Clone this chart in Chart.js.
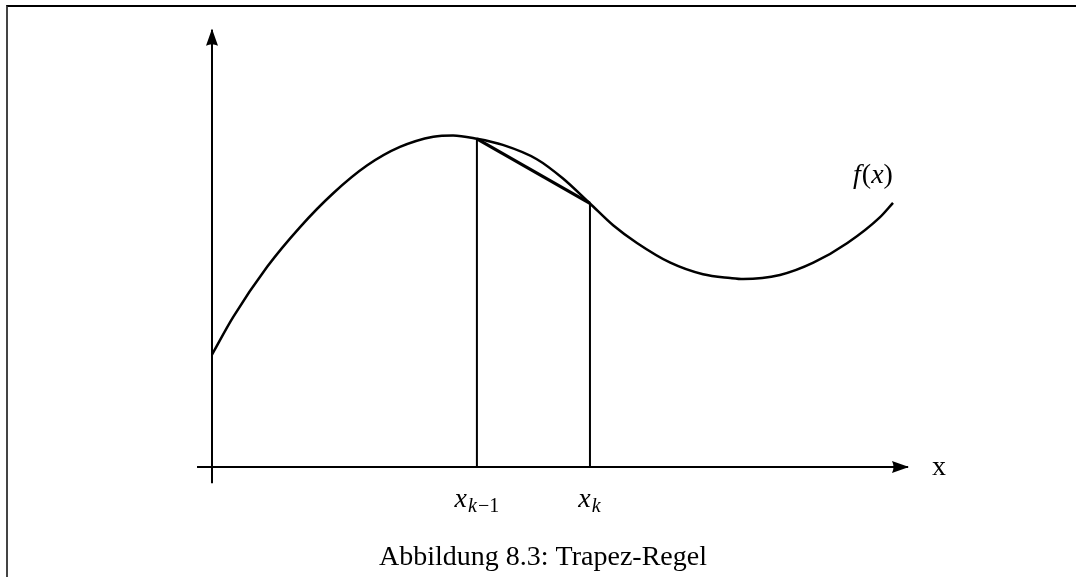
<!DOCTYPE html>
<html>
<head>
<meta charset="utf-8">
<script src="https://cdn.jsdelivr.net/npm/chart.js@4"></script>
<style>
html, body { margin: 0; padding: 0; background: #fff; }
#wrap { position: relative; width: 1076px; height: 577px; }
#frame { position: absolute; left: 6px; top: 5px; right: 0; bottom: 0;
         border-top: 2px solid #000; border-left: 2px solid #444; pointer-events: none; }
</style>
</head>
<body>
<div id="wrap"><canvas id="chart"></canvas><div id="frame"></div></div>
<script>
// f(x), x runs 0..10
var curveX = [0, 0.31, 0.81, 1.29, 1.78, 2.28, 2.76, 3.25, 3.54, 3.89, 4.27, 4.77, 5.15, 5.55, 5.89, 6.24, 6.73, 7.21, 7.61, 7.80, 8.34, 8.83, 9.33, 9.81, 10.0];
var curveY = [1.65, 2.20, 2.94, 3.52, 4.02, 4.43, 4.70, 4.85, 4.87, 4.82, 4.73, 4.52, 4.24, 3.87, 3.55, 3.29, 3.00, 2.83, 2.775, 2.76, 2.82, 3.00, 3.29, 3.67, 3.88];

// the two nodes x_{k-1}, x_k and f at them
var nodeX = [3.89, 5.55];
var nodeY = [4.82, 3.87];
var nodeSub = ["k\u22121", "k"];

// axes extents
var xAxisRange = [-0.22, 10.22];
var yAxisRange = [-0.24, 6.42];

var curveLabel = "f(x)";
var axisLabel = "x";
var caption = "Abbildung 8.3: Trapez-Regel";

var serif = '"Liberation Serif", "DejaVu Serif", serif';

function pts(xs, ys) {
    return xs.map(function (x, i) { return { x: x, y: ys[i] }; });
}

var lineBase = { showLine: true, pointRadius: 0, borderColor: '#000', fill: false };

var datasets = [
    Object.assign({}, lineBase, { label: 'x-axis', arrow: true, borderWidth: 2,
        data: pts(xAxisRange, [0, 0]) }),
    Object.assign({}, lineBase, { label: 'y-axis', arrow: true, borderWidth: 2,
        data: pts([0, 0], yAxisRange) }),
    Object.assign({}, lineBase, { label: 'f', borderWidth: 2.5, cubicInterpolationMode: 'monotone',
        data: pts(curveX, curveY) }),
    Object.assign({}, lineBase, { label: 'chord', borderWidth: 3.2,
        data: pts(nodeX, nodeY) })
];
nodeX.forEach(function (x, i) {
    datasets.push(Object.assign({}, lineBase, { label: 'node' + i, borderWidth: 2,
        data: pts([x, x], [0, nodeY[i]]) }));
});

// arrow heads at the end of the axis lines
var arrowPlugin = {
    id: 'arrows',
    afterDatasetsDraw: function (chart) {
        var ctx = chart.ctx;
        chart.data.datasets.forEach(function (ds, i) {
            if (!ds.arrow) return;
            var els = chart.getDatasetMeta(i).data;
            var a = els[els.length - 2], b = els[els.length - 1];
            var ang = Math.atan2(b.y - a.y, b.x - a.x);
            ctx.save();
            ctx.translate(b.x, b.y);
            ctx.rotate(ang);
            ctx.fillStyle = '#000';
            ctx.beginPath();
            ctx.moveTo(1, 0);
            ctx.lineTo(-16, -6);
            ctx.quadraticCurveTo(-13, 0, -16, 6);
            ctx.closePath();
            ctx.fill();
            ctx.restore();
        });
    }
};

function runs(ctx, parts, x, y, align) {
    var w = 0;
    parts.forEach(function (p) { ctx.font = p.font; w += ctx.measureText(p.t).width + (p.gap || 0); });
    var cx = align === 'center' ? x - w / 2 : (align === 'right' ? x - w : x);
    parts.forEach(function (p) {
        ctx.font = p.font;
        ctx.fillText(p.t, cx, y + (p.dy || 0));
        cx += ctx.measureText(p.t).width + (p.gap || 0);
    });
}

var labelPlugin = {
    id: 'labels',
    afterDraw: function (chart) {
        var ctx = chart.ctx, xs = chart.scales.x, ys = chart.scales.y;
        var big = '28px ' + serif, bigIt = 'italic 28px ' + serif;
        var sm = '20px ' + serif, smIt = 'italic 20px ' + serif;
        ctx.save();
        ctx.fillStyle = '#000';
        ctx.textBaseline = 'alphabetic';
        var y0 = ys.getPixelForValue(0);
        nodeX.forEach(function (x, i) {
            var parts = [{ t: 'x', font: bigIt, gap: 1 }, { t: 'k', font: smIt, dy: 5, gap: 1 }];
            if (nodeSub[i].length > 1) parts.push({ t: nodeSub[i].slice(1), font: sm, dy: 5 });
            runs(ctx, parts, xs.getPixelForValue(x), y0 + 40, 'center');
        });
        var endX = xs.getPixelForValue(curveX[curveX.length - 1]);
        var endY = ys.getPixelForValue(curveY[curveY.length - 1]);
        runs(ctx, [{ t: 'f', font: bigIt, gap: 1 }, { t: '(', font: big }, { t: 'x', font: bigIt }, { t: ')', font: big }],
             endX - 20, endY - 20, 'center');
        runs(ctx, [{ t: axisLabel, font: big }], xs.getPixelForValue(xAxisRange[1]) + 24, y0 + 8, 'left');
        runs(ctx, [{ t: caption, font: big }], chart.width / 2 + 5, 565, 'center');
        ctx.restore();
    }
};

new Chart(document.getElementById('chart'), {
    type: 'scatter',
    data: { datasets: datasets },
    options: {
        responsive: true,
        maintainAspectRatio: false,
        animation: false,
        layout: { padding: 0 },
        plugins: { legend: { display: false }, tooltip: { enabled: false } },
        scales: {
            x: { type: 'linear', display: false, min: -3.113, max: 12.687 },
            y: { type: 'linear', display: false, min: -1.615, max: 6.858 }
        }
    },
    plugins: [arrowPlugin, labelPlugin]
});
</script>
</body>
</html>
